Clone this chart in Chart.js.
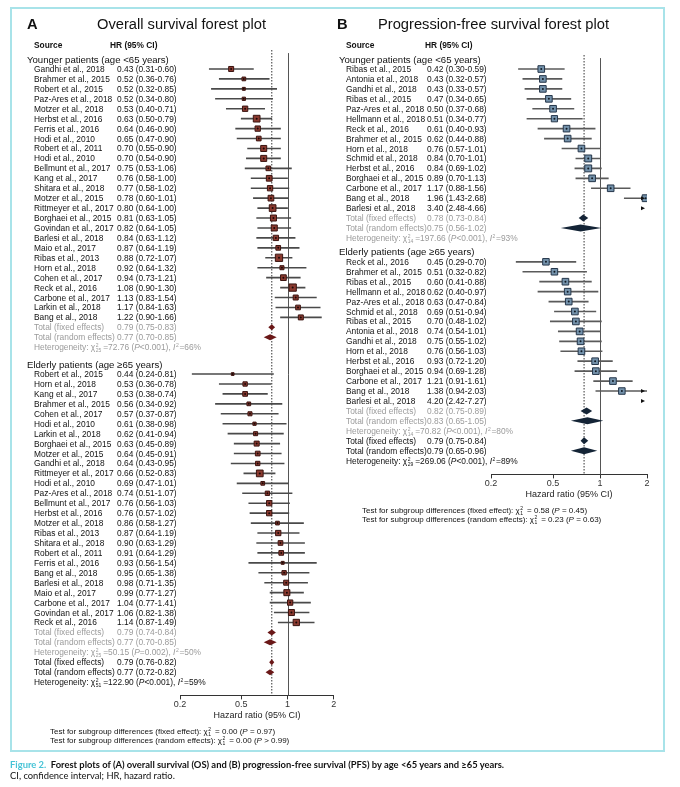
<!DOCTYPE html>
<html>
<head>
<meta charset="utf-8">
<script src="https://cdn.jsdelivr.net/npm/chart.js@4.4.1/dist/chart.umd.min.js"></script>
<style>
  body { margin: 0; background: #fff; }
  #page { position: relative; width: 680px; height: 787px; overflow: hidden; font-family: "Liberation Sans", Arial, sans-serif; color: #111; }
  #frame { position: absolute; left: 10px; top: 7px; width: 651px; height: 741px; border: 2px solid #a8e3e9; }
  canvas { position: absolute; top: 0; }
  .t { position: absolute; white-space: nowrap; line-height: 10px; height: 10px; font-size: 8.4px; }
  .head { font-size: 9.6px; }
  .grey { color: #9b9b9b; }
  .bold { font-weight: bold; }
  .ttl { font-size: 14.7px; }
  .ss { position: relative; display: inline-block; height: 0; margin: 0 0.5px; }
  .ss span { position: absolute; left: 0; font-size: 5px; line-height: 5px; }
  .ss .u { top: -7px; }
  .ss .d { top: -2px; }
  .cap { font-family: Lato, "Open Sans", sans-serif; font-size: 9.4px; }
</style>
</head>
<body>
<div id="page">
  <div id="frame"></div>
  <canvas id="chartA" width="340" height="787" style="left:0"></canvas>
  <canvas id="chartB" width="340" height="787" style="left:340px"></canvas>
</div>
<script>
// x axis ticks (hazard ratio, log scale)
const xTicks = [0.2, 0.5, 1, 2];
const groupTitles = ['Younger patients (age <65 years)', 'Elderly patients (age \u226565 years)'];
const panelTitles = ['Overall survival forest plot', 'Progression-free survival forest plot'];

// ---- Overall survival, age <65
const osYoungStudy = ['Gandhi et al., 2018', 'Brahmer et al., 2015', 'Robert et al., 2015', 'Paz-Ares et al., 2018',
  'Motzer et al., 2018', 'Herbst et al., 2016', 'Ferris et al., 2016', 'Hodi et al., 2010', 'Robert et al., 2011',
  'Hodi et al., 2010', 'Bellmunt et al., 2017', 'Kang et al., 2017', 'Shitara et al., 2018', 'Motzer et al., 2015',
  'Rittmeyer et al., 2017', 'Borghaei et al., 2015', 'Govindan et al., 2017', 'Barlesi et al., 2018', 'Maio et al., 2017',
  'Ribas et al., 2013', 'Horn et al., 2018', 'Cohen et al., 2017', 'Reck et al., 2016', 'Carbone et al., 2017',
  'Larkin et al., 2018', 'Bang et al., 2018'];
const osYoungHR = [0.43, 0.52, 0.52, 0.52, 0.53, 0.63, 0.64, 0.65, 0.70, 0.70, 0.75, 0.76, 0.77, 0.78, 0.80, 0.81, 0.82, 0.84, 0.87, 0.88, 0.92, 0.94, 1.08, 1.13, 1.17, 1.22];
const osYoungLo = [0.31, 0.36, 0.32, 0.34, 0.40, 0.50, 0.46, 0.47, 0.55, 0.54, 0.53, 0.58, 0.58, 0.60, 0.64, 0.63, 0.64, 0.63, 0.64, 0.72, 0.64, 0.73, 0.90, 0.83, 0.84, 0.90];
const osYoungHi = [0.60, 0.76, 0.85, 0.80, 0.71, 0.79, 0.90, 0.90, 0.90, 0.90, 1.06, 1.00, 1.02, 1.01, 1.00, 1.05, 1.05, 1.12, 1.19, 1.07, 1.32, 1.21, 1.30, 1.54, 1.63, 1.66];
const osYoungWt = [4.0, 2.2, 1.4, 1.7, 4.5, 7.2, 4.5, 3.5, 5.8, 5.8, 3.5, 5.2, 4.5, 5.2, 7.2, 5.8, 5.8, 4.5, 3.5, 8.5, 2.6, 5.2, 8.5, 4.0, 3.5, 4.0];

// ---- Overall survival, age >=65
const osOldStudy = ['Robert et al., 2015', 'Horn et al., 2018', 'Kang et al., 2017', 'Brahmer et al., 2015',
  'Cohen et al., 2017', 'Hodi et al., 2010', 'Larkin et al., 2018', 'Borghaei et al., 2015', 'Motzer et al., 2015',
  'Gandhi et al., 2018', 'Rittmeyer et al., 2017', 'Hodi et al., 2010', 'Paz-Ares et al., 2018', 'Bellmunt et al., 2017',
  'Herbst et al., 2016', 'Motzer et al., 2018', 'Ribas et al., 2013', 'Shitara et al., 2018', 'Robert et al., 2011',
  'Ferris et al., 2016', 'Bang et al., 2018', 'Barlesi et al., 2018', 'Maio et al., 2017', 'Carbone et al., 2017',
  'Govindan et al., 2017', 'Reck et al., 2016'];
const osOldHR = [0.44, 0.53, 0.53, 0.56, 0.57, 0.61, 0.62, 0.63, 0.64, 0.64, 0.66, 0.69, 0.74, 0.76, 0.76, 0.86, 0.87, 0.90, 0.91, 0.93, 0.95, 0.98, 0.99, 1.04, 1.06, 1.14];
const osOldLo = [0.24, 0.36, 0.38, 0.34, 0.37, 0.38, 0.41, 0.45, 0.45, 0.43, 0.52, 0.47, 0.51, 0.56, 0.57, 0.58, 0.64, 0.63, 0.64, 0.56, 0.65, 0.71, 0.77, 0.77, 0.82, 0.87];
const osOldHi = [0.81, 0.78, 0.74, 0.92, 0.87, 0.98, 0.94, 0.89, 0.91, 0.95, 0.83, 1.01, 1.07, 1.03, 1.02, 1.27, 1.19, 1.29, 1.29, 1.54, 1.38, 1.35, 1.27, 1.41, 1.38, 1.49];
const osOldWt = [1.2, 3.0, 3.5, 2.2, 2.6, 1.7, 2.6, 4.0, 3.5, 3.0, 7.2, 2.2, 3.0, 4.5, 4.5, 2.2, 4.5, 3.5, 3.5, 1.4, 3.0, 4.0, 5.8, 4.5, 5.8, 6.4];

// ---- Overall survival pooled: [<65, >=65, all]
const osFixed = [0.79, 0.79, 0.79];
const osFixedLo = [0.75, 0.74, 0.76];
const osFixedHi = [0.83, 0.84, 0.82];
const osRandom = [0.77, 0.77, 0.77];
const osRandomLo = [0.70, 0.70, 0.72];
const osRandomHi = [0.85, 0.85, 0.82];
const osHetDf = [25, 25, 51];
const osHetChi = [72.76, 50.15, 122.90];
const osHetP = ['<0.001', '=0.002', '<0.001'];
const osHetI2 = [66, 50, 59];
const osTestChi = [0.00, 0.00];
const osTestP = ['= 0.97', '> 0.99'];

// ---- Progression-free survival, age <65
const pfsYoungStudy = ['Ribas et al., 2015', 'Antonia et al., 2018', 'Gandhi et al., 2018', 'Ribas et al., 2015',
  'Paz-Ares et al., 2018', 'Hellmann et al., 2018', 'Reck et al., 2016', 'Brahmer et al., 2015', 'Horn et al., 2018',
  'Schmid et al., 2018', 'Herbst et al., 2016', 'Borghaei et al., 2015', 'Carbone et al., 2017', 'Bang et al., 2018',
  'Barlesi et al., 2018'];
const pfsYoungHR = [0.42, 0.43, 0.43, 0.47, 0.50, 0.51, 0.61, 0.62, 0.76, 0.84, 0.84, 0.89, 1.17, 1.96, 3.40];
const pfsYoungLo = [0.30, 0.32, 0.33, 0.34, 0.37, 0.34, 0.40, 0.44, 0.57, 0.70, 0.69, 0.70, 0.88, 1.43, 2.48];
const pfsYoungHi = [0.59, 0.57, 0.57, 0.65, 0.68, 0.77, 0.93, 0.88, 1.01, 1.01, 1.02, 1.13, 1.56, 2.68, 4.66];
const pfsYoungWt = [7.0, 7.0, 7.0, 7.0, 7.0, 6.2, 7.0, 7.0, 7.0, 7.6, 7.6, 7.0, 7.0, 7.4, 7.0];

// ---- Progression-free survival, age >=65
const pfsOldStudy = ['Reck et al., 2016', 'Brahmer et al., 2015', 'Ribas et al., 2015', 'Hellmann et al., 2018',
  'Paz-Ares et al., 2018', 'Schmid et al., 2018', 'Ribas et al., 2015', 'Antonia et al., 2018', 'Gandhi et al., 2018',
  'Horn et al., 2018', 'Herbst et al., 2016', 'Borghaei et al., 2015', 'Carbone et al., 2017', 'Bang et al., 2018',
  'Barlesi et al., 2018'];
const pfsOldHR = [0.45, 0.51, 0.60, 0.62, 0.63, 0.69, 0.70, 0.74, 0.75, 0.76, 0.93, 0.94, 1.21, 1.38, 4.20];
const pfsOldLo = [0.29, 0.32, 0.41, 0.40, 0.47, 0.51, 0.48, 0.54, 0.55, 0.56, 0.72, 0.69, 0.91, 0.94, 2.42];
const pfsOldHi = [0.70, 0.82, 0.88, 0.97, 0.84, 0.94, 1.02, 1.01, 1.02, 1.03, 1.20, 1.28, 1.61, 2.03, 7.27];
const pfsOldWt = [6.8, 6.8, 7.0, 6.8, 7.0, 7.0, 7.0, 7.2, 7.0, 7.0, 7.0, 7.0, 7.0, 6.8, 6.5];

// ---- Progression-free survival pooled: [<65, >=65, all]
const pfsFixed = [0.78, 0.82, 0.79];
const pfsFixedLo = [0.73, 0.75, 0.75];
const pfsFixedHi = [0.84, 0.89, 0.84];
const pfsRandom = [0.75, 0.83, 0.79];
const pfsRandomLo = [0.56, 0.65, 0.65];
const pfsRandomHi = [1.02, 1.05, 0.96];
const pfsHetDf = [14, 14, 29];
const pfsHetChi = [197.66, 70.82, 269.06];
const pfsHetP = ['<0.001', '<0.001', '<0.001'];
const pfsHetI2 = [93, 80, 89];
const pfsTestChi = [0.58, 0.23];
const pfsTestP = ['= 0.45', '= 0.63'];

Chart.defaults.font.family = '"Liberation Sans", Arial, sans-serif';
Chart.defaults.color = '#222';

const page = document.getElementById('page');
function txt(x, y, html, cls, lh) {
  const d = document.createElement('div');
  d.className = 't ' + (cls || '');
  d.style.left = x + 'px';
  d.style.top = (y - (lh || 10) / 2) + 'px';
  if (lh) { d.style.lineHeight = lh + 'px'; d.style.height = lh + 'px'; }
  d.innerHTML = html;
  page.appendChild(d);
  return d;
}
function esc(s) { return s.replace(/&/g, '&amp;').replace(/</g, '&lt;').replace(/>/g, '&gt;'); }
function f2(v) { return v.toFixed(2); }
function hrText(h, l, u) { return f2(h) + ' (' + f2(l) + '-' + f2(u) + ')'; }
// chi-square with stacked super/subscript that does not grow the line box
function chi(sub) {
  const w = String(sub).length * 3 + 1;
  return '\u03c7<span class="ss" style="width:' + w + 'px"><span class="u">2</span><span class="d">' + sub + '</span></span>';
}
function sq() { return '<span class="ss" style="width:3px"><span class="u">2</span></span>'; }

function buildPanel(p) {
  // row layout in "row units" k
  const rows = [];
  let k = -1;
  p.groups.forEach((g, gi) => {
    if (gi > 0) k += p.hetGap;
    rows.push({ kind: 'head', k: k, text: groupTitles[gi] });
    k += 1;
    g.study.forEach((s, i) => {
      rows.push({ kind: 'study', k: k, text: s, hr: g.hr[i], lo: g.lo[i], hi: g.hi[i], wt: g.wt[i] });
      k += 1;
    });
    rows.push({ kind: 'fixed', k: k, grp: gi, grey: true }); k += 1;
    rows.push({ kind: 'random', k: k, grp: gi, grey: true }); k += 1;
    rows.push({ kind: 'het', k: k, grp: gi, grey: true });
  });
  const n = p.groups.length;
  k += 1; rows.push({ kind: 'fixed', k: k, grp: n });
  k += 1; rows.push({ kind: 'random', k: k, grp: n });
  k += 1; rows.push({ kind: 'het', k: k, grp: n });

  const studies = rows.filter(r => r.kind === 'study');
  const pooled = rows.filter(r => r.kind === 'fixed' || r.kind === 'random');
  const xMax = xTicks[xTicks.length - 1];
  const look = p.look;

  const forest = {
    id: 'forest',
    beforeDatasetsDraw(chart) {
      const ctx = chart.ctx, xs = chart.scales.x, ys = chart.scales.y, a = chart.chartArea;
      ctx.save();
      // pooled estimate (dotted)
      const xd = xs.getPixelForValue(p.fixed[n]);
      ctx.strokeStyle = '#333';
      ctx.lineWidth = 1;
      ctx.setLineDash([1.5, 1.5]);
      ctx.beginPath(); ctx.moveTo(xd, a.top); ctx.lineTo(xd, a.bottom); ctx.stroke();
      // line of no effect
      ctx.setLineDash([]);
      const x1 = Math.round(xs.getPixelForValue(1)) + 0.5;
      ctx.strokeStyle = '#555';
      ctx.beginPath(); ctx.moveTo(x1, ys.getPixelForValue(p.solidTop)); ctx.lineTo(x1, a.bottom); ctx.stroke();
      ctx.restore();
    },
    afterDatasetsDraw(chart) {
      const ctx = chart.ctx, xs = chart.scales.x, ys = chart.scales.y;
      ctx.save();
      // pooled diamonds
      ctx.fillStyle = look.diamond;
      pooled.forEach(r => {
        const fixed = r.kind === 'fixed';
        const est = fixed ? p.fixed[r.grp] : p.random[r.grp];
        const lo = fixed ? p.fixedLo[r.grp] : p.randomLo[r.grp];
        const hi = fixed ? p.fixedHi[r.grp] : p.randomHi[r.grp];
        const y = ys.getPixelForValue(r.k), h = look.dh;
        ctx.beginPath();
        ctx.moveTo(xs.getPixelForValue(lo), y);
        ctx.lineTo(xs.getPixelForValue(est), y - h);
        ctx.lineTo(xs.getPixelForValue(hi), y);
        ctx.lineTo(xs.getPixelForValue(est), y + h);
        ctx.closePath();
        ctx.fill();
      });
      // arrows for intervals running past the axis
      ctx.fillStyle = '#111';
      studies.filter(r => r.hi > xMax).forEach(r => {
        const y = ys.getPixelForValue(r.k), xr = xs.getPixelForValue(xMax) - 2;
        ctx.beginPath();
        ctx.moveTo(xr, y); ctx.lineTo(xr - 4, y - 2); ctx.lineTo(xr - 4, y + 2);
        ctx.closePath(); ctx.fill();
      });
      ctx.restore();
    }
  };

  const chart = new Chart(document.getElementById(p.canvas), {
    type: 'scatter',
    data: {
      datasets: [
        {
          type: 'scatter', label: 'point', order: 1,
          data: studies.map(r => ({ x: r.hr, y: r.k })),
          pointRadius: 1, pointBorderWidth: 0, pointBackgroundColor: look.dot
        },
        {
          type: 'scatter', label: 'weight', order: 2,
          data: studies.map(r => ({ x: r.hr, y: r.k })),
          pointStyle: 'rect',
          pointRadius: studies.map(r => 2.5 * Math.sqrt(r.wt) / Math.SQRT2),
          pointBackgroundColor: look.fill, pointBorderColor: look.edge, pointBorderWidth: 1
        },
        {
          type: 'bar', label: 'ci', order: 3, indexAxis: 'y',
          data: studies.map(r => ({ x: [r.lo, r.hi], y: r.k })),
          backgroundColor: look.ci, borderWidth: 0, barThickness: 1
        }
      ]
    },
    options: {
      responsive: false,
      animation: false,
      events: [],
      layout: { padding: p.pad },
      plugins: { legend: { display: false }, tooltip: { enabled: false } },
      scales: {
        x: {
          type: 'logarithmic', min: xTicks[0], max: xMax, bounds: 'data', offset: false,
          afterBuildTicks: s => { s.ticks = xTicks.map(v => ({ value: v })); },
          grid: { display: true, offset: false, drawOnChartArea: false, drawTicks: true, tickLength: 4, color: '#333' },
          border: { display: true, color: '#333', width: 1 },
          ticks: { autoSkip: false, maxRotation: 0, padding: 0, font: { size: 9 }, color: '#333', callback: v => String(v) },
          title: { display: true, text: 'Hazard ratio (95% CI)', font: { size: 9 }, color: '#222', padding: { top: 0, bottom: 0 } }
        },
        y: { type: 'linear', reverse: true, min: p.kMin, max: p.kMax, offset: false, grid: { offset: false }, display: false }
      }
    },
    plugins: [forest]
  });

  // text columns, placed on the same row scale
  const ys = chart.scales.y;
  const X = p.textX;
  txt(X.letter, 24, p.letter, 'bold ttl', 18);
  txt(X.title, 24, p.title, 'ttl', 18);
  txt(X.name, p.headerY, 'Source', 'bold');
  txt(X.hrHead, p.headerY, 'HR (95% CI)', 'bold');
  rows.forEach(r => {
    const y = ys.getPixelForValue(r.k);
    const g = r.grey ? ' grey' : '';
    if (r.kind === 'head') {
      txt(X.head, y, esc(r.text), 'head', 11);
    } else if (r.kind === 'study') {
      txt(X.name, y, esc(r.text));
      txt(X.hr, y, hrText(r.hr, r.lo, r.hi));
    } else if (r.kind === 'fixed') {
      txt(X.name, y, 'Total (fixed effects)', g);
      txt(X.hr, y, hrText(p.fixed[r.grp], p.fixedLo[r.grp], p.fixedHi[r.grp]), g);
    } else if (r.kind === 'random') {
      txt(X.name, y, 'Total (random effects)', g);
      txt(X.hr, y, hrText(p.random[r.grp], p.randomLo[r.grp], p.randomHi[r.grp]), g);
    } else {
      txt(X.name, y, 'Heterogeneity: ' + chi(p.hetDf[r.grp]) + '=' + f2(p.hetChi[r.grp]) +
        ' (<i>P</i>' + esc(p.hetP[r.grp]) + '), <i>I</i>' + sq() + '=' + p.hetI2[r.grp] + '%', g);
    }
  });
  const xa = chart.scales.x;
  txt(X.test, xa.bottom + 11, 'Test for subgroup differences (fixed effect): ' + chi(1) + ' = ' + f2(p.testChi[0]) +
    ' (<i>P</i> ' + esc(p.testP[0]) + ')').style.fontSize = '8px';
  txt(X.test, xa.bottom + 20, 'Test for subgroup differences (random effects): ' + chi(1) + ' = ' + f2(p.testChi[1]) +
    ' (<i>P</i> ' + esc(p.testP[1]) + ')').style.fontSize = '8px';
  return chart;
}

buildPanel({
  canvas: 'chartA', letter: 'A', title: panelTitles[0],
  pad: { left: 180, right: 5, top: 50, bottom: 66 },
  kMin: -1.91, kMax: 63.04, hetGap: 1.7, solidTop: -1.6, headerY: 45,
  textX: { letter: 27, title: 97, head: 27, name: 34, hr: 117, hrHead: 110, test: 50 },
  groups: [
    { study: osYoungStudy, hr: osYoungHR, lo: osYoungLo, hi: osYoungHi, wt: osYoungWt },
    { study: osOldStudy, hr: osOldHR, lo: osOldLo, hi: osOldHi, wt: osOldWt }
  ],
  fixed: osFixed, fixedLo: osFixedLo, fixedHi: osFixedHi,
  random: osRandom, randomLo: osRandomLo, randomHi: osRandomHi,
  hetDf: osHetDf, hetChi: osHetChi, hetP: osHetP, hetI2: osHetI2,
  testChi: osTestChi, testP: osTestP,
  look: { fill: '#8a3a30', edge: '#3a1410', dot: '#1a0806', ci: '#4a4a4a', diamond: '#6a1818', dh: 3 }
});

buildPanel({
  canvas: 'chartB', letter: 'B', title: panelTitles[1],
  pad: { left: 151, right: 33, top: 55, bottom: 287 },
  kMin: -1.41, kMax: 40.79, hetGap: 1.4, solidTop: -1.1, headerY: 45,
  textX: { letter: 337, title: 378, head: 339, name: 346, hr: 427, hrHead: 425, test: 362 },
  groups: [
    { study: pfsYoungStudy, hr: pfsYoungHR, lo: pfsYoungLo, hi: pfsYoungHi, wt: pfsYoungWt },
    { study: pfsOldStudy, hr: pfsOldHR, lo: pfsOldLo, hi: pfsOldHi, wt: pfsOldWt }
  ],
  fixed: pfsFixed, fixedLo: pfsFixedLo, fixedHi: pfsFixedHi,
  random: pfsRandom, randomLo: pfsRandomLo, randomHi: pfsRandomHi,
  hetDf: pfsHetDf, hetChi: pfsHetChi, hetP: pfsHetP, hetI2: pfsHetI2,
  testChi: pfsTestChi, testP: pfsTestP,
  look: { fill: '#7492ab', edge: '#25364a', dot: '#101a24', ci: '#5a5a5a', diamond: '#142436', dh: 3.5 }
});

// figure caption
txt(10, 764, '<span style="color:#46c3d6">Figure 2.</span>&nbsp; Forest plots of (A) overall survival (OS) and (B) progression-free survival (PFS) by age &lt;65 years and \u226565 years.', 'cap bold', 11);
txt(10, 775, 'CI, confidence interval; HR, hazard ratio.', 'cap', 11);
</script>
</body>
</html>
